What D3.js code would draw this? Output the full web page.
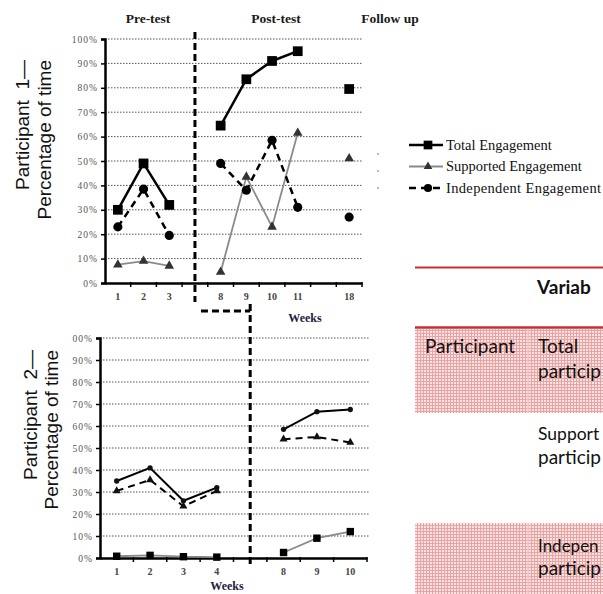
<!DOCTYPE html>
<html>
<head>
<meta charset="utf-8">
<script src="https://cdn.jsdelivr.net/npm/d3@7"></script>
<style>
  html, body { margin: 0; padding: 0; background: #fff; overflow: hidden; }
  svg { display: block; }
</style>
</head>
<body>
<div id="chart"></div>
<script>
'use strict';

// Participant 1 (weeks, with empty slots for the phase gaps)
const p1Weeks = ['1', '2', '3', '', '8', '9', '10', '11', '', '18'];
const p1Total = [30, 49, 32, null, 64.5, 83.5, 91, 95, null, 79.5];
const p1Supported = [7.5, 9, 7, null, 4.5, 43.5, 23, 61.5, null, 51];
const p1Independent = [23, 38.5, 19.5, null, 49, 38, 58.5, 31, null, 27];
const p1YLabels = ['0%', '10%', '20%', '30%', '40%', '50%', '60%', '70%', '80%', '90%', '100%'];

// Participant 2
const p2Weeks = ['1', '2', '3', '4', '', '8', '9', '10'];
const p2Total = [35, 41, 26, 32, null, 58.5, 66.5, 67.5];
const p2Supported = [30.5, 35.5, 23.5, 30.5, null, 54, 55, 52.5];
const p2Independent = [0.8, 1.2, 0.6, 0.4, null, 2.5, 9, 12];
const p2YLabels = ['0%', '10%', '20%', '30%', '40%', '50%', '60%', '70%', '80%', '90%', '00%'];

const phaseTitles = ['Pre-test', 'Post-test', 'Follow up'];
const legendNames = ['Total Engagement', 'Supported Engagement', 'Independent Engagement'];

const settings = { width: 603, height: 594 };
const serif = '"Liberation Serif", "DejaVu Serif", serif';

const svg = d3.select('#chart')
    .append('svg')
    .attr('width', settings.width)
    .attr('height', settings.height);

const defs = svg.append('defs');
const pat = defs.append('pattern')
    .attr('id', 'pinkgrid')
    .attr('patternUnits', 'userSpaceOnUse')
    .attr('width', 3)
    .attr('height', 3);
pat.append('rect').attr('width', 3).attr('height', 3).attr('fill', '#fbe3e3');
pat.append('path').attr('d', 'M0,0.5H3M0.5,0V3')
    .attr('stroke', '#e9a3a3').attr('stroke-width', 1);

// Styles for each series (top / bottom charts swap markers)
const topStyles = [
    { values: p1Total, stroke: '#000', width: 2.5, dash: null, symbol: d3.symbolSquare, size: 95, fill: '#000' },
    { values: p1Supported, stroke: '#8a8a8a', width: 1.8, dash: null, symbol: d3.symbolTriangle, size: 40, fill: '#333' },
    { values: p1Independent, stroke: '#000', width: 2.5, dash: '7,5', symbol: d3.symbolCircle, size: 66, fill: '#000' }
];
const bottomStyles = [
    { values: p2Total, stroke: '#000', width: 2, dash: null, symbol: d3.symbolCircle, size: 22, fill: '#111' },
    { values: p2Supported, stroke: '#000', width: 2, dash: '7,5', symbol: d3.symbolTriangle, size: 28, fill: '#111' },
    { values: p2Independent, stroke: '#8a8a8a', width: 1.8, dash: null, symbol: d3.symbolSquare, size: 55, fill: '#000' }
];

function drawPanel(cfg) {
    const x = d3.scaleBand()
        .domain(d3.range(cfg.weeks.length))
        .range([cfg.left, cfg.right])
        .padding(0);
    const y = d3.scaleLinear()
        .domain([0, 100])
        .range([cfg.bottom, cfg.top]);
    const cx = i => x(i) + x.bandwidth() / 2;

    const g = svg.append('g');

    // dotted gridlines
    g.append('g')
        .selectAll('line')
        .data(d3.range(10, 101, 10))
        .join('line')
        .attr('x1', cfg.left)
        .attr('x2', cfg.gridRight)
        .attr('y1', d => y(d))
        .attr('y2', d => y(d))
        .attr('stroke', '#555')
        .attr('stroke-width', 1)
        .attr('stroke-dasharray', '1.5,1.5');

    // y axis
    const yAxis = g.append('g')
        .attr('transform', `translate(${cfg.left},0)`)
        .call(d3.axisLeft(y)
            .tickValues(d3.range(0, 101, 10))
            .tickFormat((d, i) => cfg.yLabels[i])
            .tickSize(4)
            .tickPadding(3));
    yAxis.select('.domain').attr('stroke-width', 2.5).attr('stroke', '#000');
    yAxis.selectAll('.tick line').attr('stroke-width', 1.5);
    yAxis.selectAll('.tick text')
        .attr('font-family', serif)
        .attr('font-size', 9.5)
        .attr('letter-spacing', 1)
        .attr('fill', '#555');

    // x axis: labels centred in slots, tick marks between slots
    const xAxis = g.append('g')
        .attr('transform', `translate(0,${cfg.bottom})`)
        .call(d3.axisBottom(x)
            .tickFormat(i => cfg.weeks[i])
            .tickSize(0)
            .tickPadding(cfg.tickPad));
    xAxis.select('.domain').attr('stroke-width', 2.5).attr('stroke', '#000');
    xAxis.selectAll('.tick text')
        .attr('font-family', serif)
        .attr('font-size', 10)
        .attr('font-weight', 'bold')
        .attr('fill', '#444');
    g.append('g')
        .selectAll('line')
        .data(d3.range(1, cfg.weeks.length + 1))
        .join('line')
        .attr('x1', i => cfg.left + i * x.bandwidth())
        .attr('x2', i => cfg.left + i * x.bandwidth())
        .attr('y1', cfg.bottom - 1)
        .attr('y2', cfg.bottom + 4)
        .attr('stroke', '#000')
        .attr('stroke-width', 1.5);

    // series
    const line = d3.line()
        .defined(d => d != null)
        .x((d, i) => cx(i))
        .y(d => y(d));

    cfg.styles.forEach(s => {
        g.append('path')
            .datum(s.values)
            .attr('d', line)
            .attr('fill', 'none')
            .attr('stroke', s.stroke)
            .attr('stroke-width', s.width)
            .attr('stroke-dasharray', s.dash);

        g.append('g')
            .selectAll('path')
            .data(s.values.map((v, i) => ({ v, i })).filter(d => d.v != null))
            .join('path')
            .attr('transform', d => `translate(${cx(d.i)},${y(d.v)})`)
            .attr('d', d3.symbol().type(s.symbol).size(s.size))
            .attr('fill', s.fill);
    });

    // "Weeks" label
    svg.append('text')
        .text('Weeks')
        .attr('x', cfg.weeksX)
        .attr('y', cfg.weeksY)
        .attr('text-anchor', 'middle')
        .attr('font-family', serif)
        .attr('font-weight', 'bold')
        .attr('font-size', 12)
        .attr('fill', '#1c1c40');

    // y title (two rotated lines, end aligned at top)
    cfg.titleLines.forEach((t, k) => {
        svg.append('text')
            .text(t)
            .attr('transform', `translate(${cfg.titleX[k]},${cfg.titleTop}) rotate(-90)`)
            .attr('text-anchor', 'end')
            .attr('font-family', '"Liberation Sans", Arial, sans-serif')
            .attr('font-size', 19)
            .attr('fill', '#111')
            .style('white-space', 'pre');
    });

    return { x, y, cx };
}

const topPanel = drawPanel({
    weeks: p1Weeks, yLabels: p1YLabels, styles: topStyles,
    left: 105, right: 362, gridRight: 362, top: 39, bottom: 283, tickPad: 10,
    weeksX: 305, weeksY: 322,
    titleLines: ['Participant  1\u2014', 'Percentage of time'],
    titleX: [29, 51], titleTop: 60
});

const bottomPanel = drawPanel({
    weeks: p2Weeks, yLabels: p2YLabels, styles: bottomStyles,
    left: 100, right: 367, gridRight: 370, top: 338, bottom: 558, tickPad: 10,
    weeksX: 227, weeksY: 590,
    titleLines: ['Participant  2\u2014', 'Percentage of time'],
    titleX: [37, 58], titleTop: 350
});

// phase titles
const titleXs = [148, 276, 390];
phaseTitles.forEach((t, i) => {
    svg.append('text')
        .text(t)
        .attr('x', titleXs[i])
        .attr('y', 23)
        .attr('text-anchor', 'middle')
        .attr('font-family', serif)
        .attr('font-weight', 'bold')
        .attr('font-size', 13.5)
        .attr('fill', '#1a1a1a');
});

// phase change lines
const topPhaseX = topPanel.cx(3);
const botPhaseX = bottomPanel.cx(4);
const phaseStyle = sel => sel
    .attr('fill', 'none')
    .attr('stroke', '#000')
    .attr('stroke-width', 3)
    .attr('stroke-dasharray', '7,4');

svg.append('path')
    .attr('d', `M${topPhaseX},32V302`)
    .call(phaseStyle);
svg.append('path')
    .attr('d', `M${topPhaseX + 6},311H${botPhaseX}`)
    .call(phaseStyle);
svg.append('path')
    .attr('d', `M${botPhaseX},304V566`)
    .call(phaseStyle);

// legend
const legend = svg.append('g').attr('transform', 'translate(409,145)');
topStyles.forEach((s, i) => {
    const row = legend.append('g').attr('transform', `translate(0,${i * 21.5})`);
    row.append('line')
        .attr('x1', 0).attr('x2', 34)
        .attr('stroke', s.stroke)
        .attr('stroke-width', s.width)
        .attr('stroke-dasharray', s.dash);
    row.append('path')
        .attr('transform', 'translate(19,0)')
        .attr('d', d3.symbol().type(s.symbol).size(s.size * 0.8))
        .attr('fill', s.fill);
    row.append('text')
        .text(legendNames[i])
        .attr('x', 37)
        .attr('y', 4.5)
        .attr('font-family', serif)
        .attr('font-size', 14.5)
        .attr('textLength', i === 2 ? 155 : null)
        .attr('fill', '#111');
    svg.append('circle')
        .attr('cx', 378)
        .attr('cy', 154 + i * 17)
        .attr('r', 0.8)
        .attr('fill', '#666');
});

// table fragment at the right (cropped at the picture's edge)
const red = '#c62f2f';
const sans = 'Lato, "Open Sans", sans-serif';
svg.append('rect').attr('x', 415).attr('y', 329).attr('width', 188).attr('height', 84).attr('fill', 'url(#pinkgrid)');
svg.append('rect').attr('x', 415).attr('y', 523).attr('width', 188).attr('height', 71).attr('fill', 'url(#pinkgrid)');
svg.append('line').attr('x1', 528).attr('x2', 528).attr('y1', 329).attr('y2', 413)
    .attr('stroke', '#f4caca').attr('stroke-width', 1.5);
svg.append('line').attr('x1', 528).attr('x2', 528).attr('y1', 523).attr('y2', 594)
    .attr('stroke', '#f4caca').attr('stroke-width', 1.5);
svg.append('line').attr('x1', 415).attr('x2', 603).attr('y1', 267.5).attr('y2', 267.5)
    .attr('stroke', red).attr('stroke-width', 2);
svg.append('line').attr('x1', 415).attr('x2', 603).attr('y1', 327.5).attr('y2', 327.5)
    .attr('stroke', red).attr('stroke-width', 2.5);

const tableTexts = [
    { t: 'Variab', x: 537, y: 294, bold: true },
    { t: 'Participant', x: 425, y: 353 },
    { t: 'Total', x: 538, y: 353 },
    { t: 'particip', x: 538, y: 378 },
    { t: 'Support', x: 538, y: 440, size: 17.5 },
    { t: 'particip', x: 538, y: 464 },
    { t: 'Indepen', x: 538, y: 552, size: 17 },
    { t: 'particip', x: 538, y: 575 }
];
tableTexts.forEach(d => {
    svg.append('text')
        .text(d.t)
        .attr('x', d.x)
        .attr('y', d.y)
        .attr('font-family', sans)
        .attr('font-weight', d.bold ? 'bold' : 'normal')
        .attr('font-size', d.size || 19)
        .attr('fill', '#111');
});
</script>
</body>
</html>
